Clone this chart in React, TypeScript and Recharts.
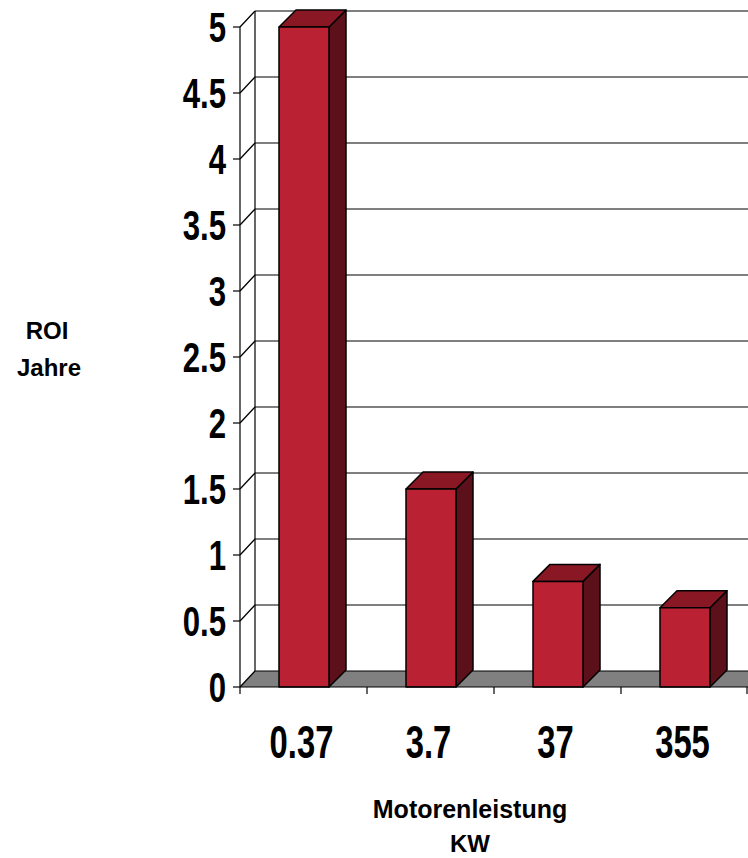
import React from "react";
import { Bar, BarChart, CartesianGrid, XAxis, YAxis } from "recharts";

// data
const categories = ["0.37", "3.7", "37", "355"];
const roiYears = [5, 1.5, 0.8, 0.6];
const yTicks = [0, 0.5, 1, 1.5, 2, 2.5, 3, 3.5, 4, 4.5, 5];

const data = categories.map((kw, i) => ({ kw, roi: roiYears[i] }));

// layout
const W = 748;
const H = 858;
const LEFT = 240;
const TOP = 27;
const BOTTOM = 687;
const WALL_DX = 15;
const WALL_DY = 16;
const DEPTH = 17;
const BAND = (W - LEFT) / categories.length;

// no narrow face installed, so squeeze the regular bold one
const tickFont = "'Liberation Sans', Arial, sans-serif";
const labelFont = "'Liberation Sans', Arial, sans-serif";
const SQUEEZE = "scale(0.82,1.14)";

function Bar3D(props: any) {
  const { x, y, width, height } = props;
  const d = DEPTH;
  return (
    <g stroke="#000" strokeWidth={1.5} strokeLinejoin="round">
      <polygon
        points={`${x + width},${y} ${x + width + d},${y - d} ${x + width + d},${y + height - d} ${x + width},${y + height}`}
        fill="#5c111a"
      />
      <polygon
        points={`${x},${y} ${x + d},${y - d} ${x + width + d},${y - d} ${x + width},${y}`}
        fill="#8a1824"
      />
      <rect x={x} y={y} width={width} height={height} fill="#ba2233" />
    </g>
  );
}

function GridLine(props: any) {
  const { x1, x2, y1 } = props;
  const by = y1 - WALL_DY;
  const bx = x1 + WALL_DX;
  const isFloor = Math.abs(y1 - BOTTOM) < 1;
  return (
    <g>
      {isFloor && (
        <>
          <polygon
            points={`${x1},${y1} ${bx},${by} ${x2 + WALL_DX},${by} ${x2},${y1}`}
            fill="#808080"
          />
          <line x1={bx} y1={by} x2={bx} y2={TOP - WALL_DY} stroke="#000" strokeWidth={1.2} />
        </>
      )}
      <line x1={bx} y1={by} x2={x2 + WALL_DX} y2={by} stroke="#000" strokeWidth={1.2} />
      <line x1={x1} y1={y1} x2={bx} y2={by} stroke="#000" strokeWidth={1.2} />
    </g>
  );
}

function YTick(props: any) {
  const { x, y, payload } = props;
  return (
    <text
      transform={`translate(${x},${y}) ${SQUEEZE}`}
      textAnchor="end"
      dominantBaseline="central"
      fontFamily={tickFont}
      fontWeight="bold"
      fontSize={38}
      fill="#000"
    >
      {String(payload.value)}
    </text>
  );
}

function XTick(props: any) {
  const { x, payload, index } = props;
  const last = index === categories.length - 1;
  return (
    <g>
      <line x1={x - BAND / 2} y1={BOTTOM} x2={x - BAND / 2} y2={BOTTOM + 7} stroke="#000" strokeWidth={1.2} />
      {last && (
        <line x1={x + BAND / 2 - 1} y1={BOTTOM} x2={x + BAND / 2 - 1} y2={BOTTOM + 7} stroke="#000" strokeWidth={1.2} />
      )}
      <text
        transform={`translate(${x - 2},${BOTTOM + 55}) ${SQUEEZE}`}
        textAnchor="middle"
        dominantBaseline="central"
        fontFamily={tickFont}
        fontWeight="bold"
        fontSize={40}
        fill="#000"
      >
        {payload.value}
      </text>
    </g>
  );
}

function YLabel() {
  return (
    <g fontFamily={labelFont} fontWeight="bold" fontSize={24} fill="#000" textAnchor="middle">
      <text x={47} y={330} dominantBaseline="central">ROI</text>
      <text x={49} y={367} dominantBaseline="central">Jahre</text>
    </g>
  );
}

function XLabel() {
  return (
    <g fontFamily={labelFont} fontWeight="bold" fontSize={25} fill="#000" textAnchor="middle">
      <text x={470} y={809} dominantBaseline="central">Motorenleistung</text>
      <text x={470} y={843} dominantBaseline="central" fontSize={24}>KW</text>
    </g>
  );
}

export default function App() {
  return (
    <div style={{ position: "absolute", left: 0, top: 0, width: W, height: H, background: "#fff" }}>
      <BarChart
        width={W}
        height={H}
        data={data}
        margin={{ top: TOP, right: 0, bottom: H - BOTTOM - 60, left: LEFT - 60 }}
      >
        <CartesianGrid vertical={false} horizontal={(p: any) => <GridLine key={p.key} {...p} />} />
        <XAxis
          dataKey="kw"
          height={60}
          tickLine={false}
          axisLine={{ stroke: "#000", strokeWidth: 1.2 }}
          tick={<XTick />}
          interval={0}
          label={{ content: () => <XLabel /> }}
        />
        <YAxis
          width={60}
          domain={[0, 5]}
          ticks={yTicks}
          interval={0}
          tickSize={7}
          tickMargin={7}
          tickLine={{ stroke: "#000", strokeWidth: 1.2 }}
          axisLine={{ stroke: "#000", strokeWidth: 1.2 }}
          tick={<YTick />}
          label={{ content: () => <YLabel /> }}
        />
        <Bar dataKey="roi" barSize={50} shape={<Bar3D />} isAnimationActive={false} />
      </BarChart>
    </div>
  );
}
